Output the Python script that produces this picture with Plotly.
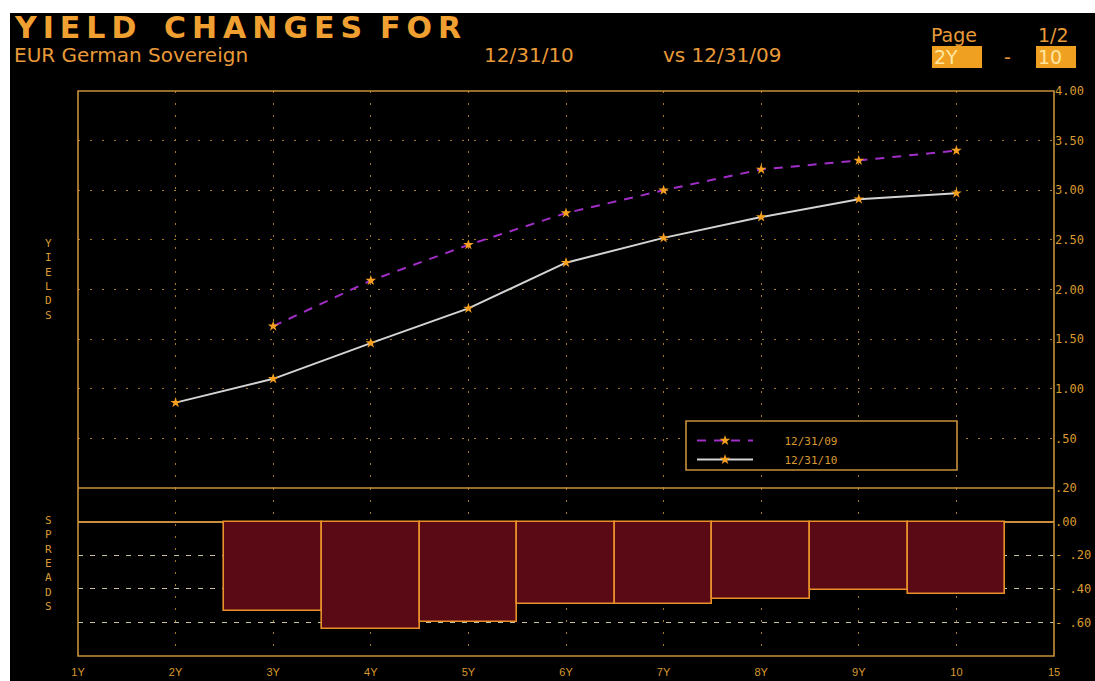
import plotly.graph_objects as go

# ---------------- data ----------------
x_tick_labels = ["1Y", "2Y", "3Y", "4Y", "5Y", "6Y", "7Y", "8Y", "9Y", "10", "15"]
tenors = ["2Y", "3Y", "4Y", "5Y", "6Y", "7Y", "8Y", "9Y", "10"]
series_names = ["12/31/09", "12/31/10"]
yield_2009 = [None, 1.63, 2.09, 2.45, 2.77, 3.00, 3.21, 3.30, 3.40]
yield_2010 = [0.86, 1.10, 1.46, 1.81, 2.27, 2.52, 2.73, 2.91, 2.97]
spreads = [None, -0.53, -0.64, -0.60, -0.49, -0.49, -0.46, -0.41, -0.43]

yield_ticks = [0.5, 1.0, 1.5, 2.0, 2.5, 3.0, 3.5, 4.0]
yield_tick_labels = [".50", "1.00", "1.50", "2.00", "2.50", "3.00", "3.50", "4.00"]
spread_ticks = [-0.6, -0.4, -0.2, 0.0, 0.2]
spread_tick_labels = ["- .60", "- .40", "- .20", ".00", ".20"]

# ---------------- geometry helpers (pixel -> paper) ----------------
W, H = 1095, 681
L, R, T, B = 78, 1054, 91, 656


def X(px):
    return (px - L) / (R - L)


def Y(py):
    return (B - py) / (B - T)


split = Y(488)

ORANGE = "#f0a030"
AXIS = "#c8903a"
TXT = "#d89a30"
MONO = "DejaVu Sans Mono"
PAD = "\u00a0" * 4

fig = go.Figure()
fig.add_trace(go.Scatter(
    x=tenors, y=yield_2009, name=PAD + series_names[0], mode="lines+markers",
    line=dict(color="#a22ec8", width=2, dash="9px,8px"),
    marker=dict(symbol="star", size=8, color="#f5a020"),
    xaxis="x", yaxis="y"))
fig.add_trace(go.Scatter(
    x=tenors, y=yield_2010, name=PAD + series_names[1], mode="lines+markers",
    line=dict(color="#d4d4d4", width=2),
    marker=dict(symbol="star", size=8, color="#f5a020"),
    xaxis="x", yaxis="y"))
fig.add_trace(go.Bar(
    x=tenors, y=spreads, showlegend=False,
    marker=dict(color="#5a0a14", line=dict(color="#e8902a", width=1.6)),
    xaxis="x", yaxis="y2"))

shapes = [
    # white margins of the screenshot
    dict(type="rect", xref="paper", yref="paper", x0=X(-5), x1=X(10), y0=Y(H + 5), y1=Y(-5),
         fillcolor="white", line=dict(width=0), layer="below"),
    dict(type="rect", xref="paper", yref="paper", x0=X(-5), x1=X(W + 5), y0=Y(13), y1=Y(-5),
         fillcolor="white", line=dict(width=0), layer="below"),
    # frame
    dict(type="rect", xref="paper", yref="paper", x0=0, x1=1, y0=0, y1=1,
         line=dict(color=AXIS, width=1.6), layer="above"),
    dict(type="line", xref="paper", yref="paper", x0=0, x1=1, y0=split, y1=split,
         line=dict(color=AXIS, width=1.6), layer="above"),
    # legend box
    dict(type="rect", xref="paper", yref="paper", x0=X(686), x1=X(957), y0=Y(470), y1=Y(421),
         fillcolor="black", line=dict(color=AXIS, width=1.6), layer="above"),
    # page boxes
    dict(type="rect", xref="paper", yref="paper", x0=X(932), x1=X(982), y0=Y(68), y1=Y(46),
         fillcolor="#f0a020", line=dict(width=0)),
    dict(type="rect", xref="paper", yref="paper", x0=X(1036), x1=X(1076), y0=Y(68), y1=Y(46),
         fillcolor="#f0a020", line=dict(width=0)),
]


def ann(text, px, py, size, family="DejaVu Sans", color=ORANGE, xanchor="left"):
    return dict(text=text, x=X(px), y=Y(py), xref="paper", yref="paper",
                xanchor=xanchor, yanchor="middle", showarrow=False,
                font=dict(family=family, size=size, color=color))


ts = "\u2009"
annotations = [
    ann("<b>" + ts.join("YIELD") + "</b>", 12, 28, 30),
    ann("<b>" + ts.join("CHANGES") + "</b>", 162, 28, 30),
    ann("<b>" + ts.join("FOR") + "</b>", 378, 28, 30),
    ann("EUR German Sovereign", 12, 55, 20, color="#e89a38"),
    ann("12/31/10", 482, 55, 20, color="#e89a38"),
    ann("vs 12/31/09", 661, 55, 20, color="#e89a38"),
    ann("Page", 929, 35, 19, color="#e89a38"),
    ann("1/2", 1036, 35, 19, color="#e89a38"),
    ann("2Y", 932, 57, 19, color="#ffe6a0"),
    ann("-", 1002, 57, 19, color="#e89a38"),
    ann("10", 1036, 57, 19, color="#ffe6a0"),
    ann("<br>".join("YIELDS"), 48, 279, 11, family=MONO, color=TXT, xanchor="center"),
    ann("<br>".join("SPREADS"), 48, 563, 11, family=MONO, color=TXT, xanchor="center"),
]

fig.update_layout(
    width=W, height=H,
    margin=dict(l=L, r=W - R, t=T, b=H - B, autoexpand=False),
    paper_bgcolor="black", plot_bgcolor="black",
    bargap=0,
    showlegend=True,
    legend=dict(x=X(692), y=Y(426), xanchor="left", yanchor="top",
                bgcolor="rgba(0,0,0,0)", borderwidth=0, itemwidth=56,
                font=dict(family=MONO, size=11, color=TXT), tracegroupgap=0),
    xaxis=dict(type="category", categoryorder="array", categoryarray=x_tick_labels,
               tickvals=x_tick_labels, ticktext=x_tick_labels,
               range=[0, 10], anchor="y2", showgrid=True, gridcolor="#a47a2e",
               griddash="2px,10px", gridwidth=1, zeroline=False, showline=False,
               ticks="", ticklabelstandoff=8, automargin=False,
               tickfont=dict(family="Liberation Sans", size=11, color=TXT)),
    yaxis=dict(domain=[split, 1], range=[0, 4], side="right", anchor="x",
               tickvals=yield_ticks, ticktext=yield_tick_labels, automargin=False,
               showgrid=True, gridcolor="#a47a2e", griddash="2px,10px", gridwidth=1,
               zeroline=False, showline=False, ticks="",
               tickfont=dict(family=MONO, size=12, color=TXT)),
    yaxis2=dict(domain=[0, split], range=[-0.8, 0.2], side="right", anchor="x",
                tickvals=spread_ticks, ticktext=spread_tick_labels, automargin=False,
                showgrid=True, gridcolor="#c8bea0", griddash="5px,7px", gridwidth=1,
                zeroline=True, zerolinecolor=AXIS, zerolinewidth=1.6,
                showline=False, ticks="",
                tickfont=dict(family=MONO, size=12, color=TXT)),
    shapes=shapes,
    annotations=annotations,
)

fig.write_html(
    "out.html",
    config={"displayModeBar": False},
    post_script="document.body.style.margin='0';document.body.style.overflow='hidden';",
)
